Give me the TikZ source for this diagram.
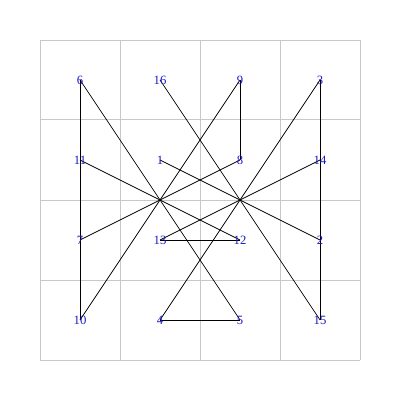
\documentclass[tikz,border=0pt]{standalone}
\usepackage{fontspec}
\setmainfont{Liberation Serif}
\usepackage{tikz}
\usetikzlibrary{backgrounds}
\definecolor{numblue}{RGB}{25,25,200}
\definecolor{gridgray}{RGB}{200,200,200}

\begin{document}
\begin{tikzpicture}[
  font=\small,
  num/.style={text=numblue,inner sep=0pt},
  tour/.style={draw=black,line width=0.5pt},
  boardline/.style={draw=gridgray,line width=0.7pt}
]
\useasboundingbox (0,0) rectangle (10,10);
% numbers on the board
\node[num] (n6)  at (2,8) {6};
\node[num] (n16) at (4,8) {16};
\node[num] (n9)  at (6,8) {9};
\node[num] (n3)  at (8,8) {3};
\node[num] (n11) at (2,6) {11};
\node[num] (n1)  at (4,6) {1};
\node[num] (n8)  at (6,6) {8};
\node[num] (n14) at (8,6) {14};
\node[num] (n7)  at (2,4) {7};
\node[num] (n13) at (4,4) {13};
\node[num] (n12) at (6,4) {12};
\node[num] (n2)  at (8,4) {2};
\node[num] (n10) at (2,2) {10};
\node[num] (n4)  at (4,2) {4};
\node[num] (n5)  at (6,2) {5};
\node[num] (n15) at (8,2) {15};
\begin{scope}[on background layer]
\draw[boardline,shift={(1,1)}] (0,0) grid[step=2] (8,8);
\foreach \a/\b in {1/2,2/3,3/4,4/5,5/6,6/7,7/8,8/9,9/10,10/11,11/12,12/13,13/14,14/15,15/16}
  \draw[tour] (n\a.center) -- (n\b.center);
\end{scope}
\end{tikzpicture}
\end{document}
